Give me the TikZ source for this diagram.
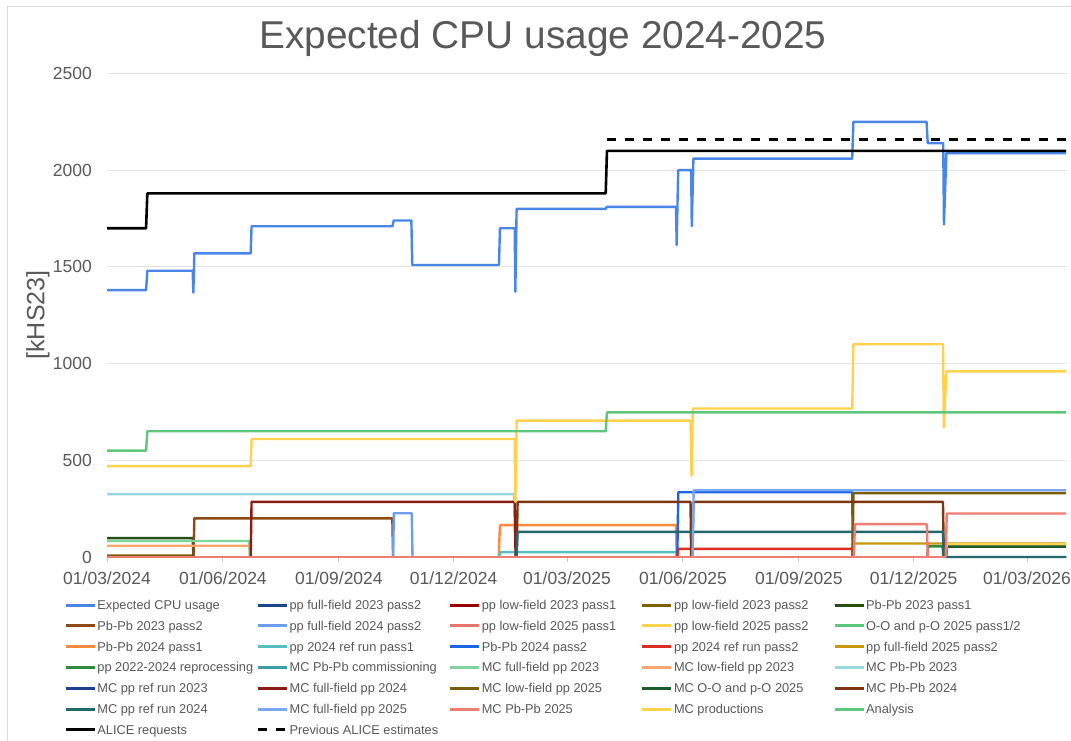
\documentclass[tikz,border=0pt]{standalone}
\usepackage{fontspec}
\setmainfont{Liberation Sans}
\definecolor{txt}{HTML}{595959}
\definecolor{gridc}{HTML}{E3E3E3}
\definecolor{framec}{HTML}{D9D9D9}
\definecolor{axisc}{HTML}{C6C6C6}
\definecolor{cExp}{HTML}{4A86E8}
\definecolor{cPPffA}{HTML}{1C4587}
\definecolor{cPPlfA}{HTML}{990000}
\definecolor{cPPlfB}{HTML}{7F6000}
\definecolor{cPbA}{HTML}{274E13}
\definecolor{cPbB}{HTML}{8F4A14}
\definecolor{cPPffB}{HTML}{6D9EEB}
\definecolor{cPPlfC}{HTML}{E8756B}
\definecolor{cPPlfD}{HTML}{FFD24D}
\definecolor{cOO}{HTML}{5CC67A}
\definecolor{cPbC}{HTML}{FF8A3D}
\definecolor{cRefA}{HTML}{55BFC4}
\definecolor{cPbD}{HTML}{1A66E6}
\definecolor{cRefB}{HTML}{DC2D20}
\definecolor{cPPffC}{HTML}{C9970A}
\definecolor{cRepro}{HTML}{2E8B3E}
\definecolor{cMCcomm}{HTML}{3A9EA6}
\definecolor{cMCffA}{HTML}{7ED49A}
\definecolor{cMClfA}{HTML}{F9A56E}
\definecolor{cMCPbA}{HTML}{98D8E0}
\definecolor{cMCrefA}{HTML}{1F3F8F}
\definecolor{cMCffB}{HTML}{8C1C13}
\definecolor{cMClfB}{HTML}{7A5C0C}
\definecolor{cMCOO}{HTML}{1D5A2E}
\definecolor{cMCPbB}{HTML}{7D3512}
\definecolor{cMCrefB}{HTML}{24686C}
\definecolor{cMCffC}{HTML}{79A7F2}
\definecolor{cMCPbC}{HTML}{EE7D74}
\definecolor{cMCprod}{HTML}{FFD24D}
\definecolor{cAna}{HTML}{5EC77B}
\begin{document}
\begin{tikzpicture}[x=1pt,y=-1pt,
  ser/.style={line width=2.4pt, line join=round},
  gridl/.style={draw=gridc, line width=1.2pt},
  ticklab/.style={text=txt, font=\fontsize{17.5}{20}\selectfont, inner sep=0pt},
  legtext/.style={text=txt, font=\fontsize{12.8}{15}\selectfont, anchor=base west, inner sep=0pt},
  legline/.style={line width=3pt},
  prevdash/.style={dash pattern=on 9.4pt off 8.6pt}]
\useasboundingbox (0,0) rectangle (1071,741);
\fill[white] (0,0) rectangle (1071,741);
\draw[framec, line width=1pt] (7,741) -- (7,7) -- (1071,7);
% title and axis title
\node[text=txt, font=\fontsize{38.8}{44}\selectfont, anchor=base, inner sep=0pt] (title) at (543,49) {Expected CPU usage 2024-2025};
\node[rotate=90, text=txt, font=\fontsize{25}{28}\selectfont, inner sep=0pt] (ytitle) at (38,315) {[kHS23]};
% y tick labels
\foreach \v in {0,500,1000,1500,2000,2500}
  \node[ticklab, anchor=east] (yl\v) at (92,557-0.1934*\v) {\v};
\begin{scope}[shift={(107pt,-557pt)}, x=1.2603pt, y=0.1934pt]
  \foreach \v in {500,1000,1500,2000,2500}
    \draw[gridl] (0,\v) -- (762,\v);
  \draw[axisc, line width=1.2pt] (0,0) -- (762,0);
  \foreach \d/\lab [count=\k] in {0/01\slash 03\slash 2024,92/01\slash 06\slash 2024,184/01\slash 09\slash 2024,275/01\slash 12\slash 2024,365/01\slash 03\slash 2025,457/01\slash 06\slash 2025,549/01\slash 09\slash 2025,640/01\slash 12\slash 2025,730/01\slash 03\slash 2026}{
    \draw[axisc, line width=1pt] (\d,0) -- ++(0pt,-5pt);
    \node[ticklab] (xl\k) at (\d,0) [yshift=-21pt] {\lab};
  }
  % series, in legend order
  \draw[ser, cExp] (0,1380) -- (31,1380) -- (32,1480) -- (68,1480) -- (68.5,1367) -- (69.3,1570) -- (114,1570) -- (114.7,1710) -- (226.5,1710) -- (227.5,1740) -- (241.5,1740) -- (242.2,1510) -- (311,1510) -- (311.8,1700) -- (323.5,1700) -- (324,1372) -- (325,1800) -- (395.7,1800) -- (396.5,1810) -- (451.5,1810) -- (452,1613) -- (453.2,2000) -- (463.5,2000) -- (464,1711) -- (465.3,2060) -- (591.3,2060) -- (592.2,2250) -- (650.3,2250) -- (651.2,2140) -- (663.5,2140) -- (664.1,1720) -- (666,2088) -- (761,2088);
  \draw[ser, cPPlfB] (0,8) -- (68,8) -- (68.6,0);
  \draw[ser, cPbA] (0,98) -- (68,98) -- (68.6,0);
  \draw[ser, cPbB] (68.6,0) -- (69.3,200) -- (226.4,200) -- (227,0);
  \draw[ser, cPPffB] (227,0) -- (227.6,226) -- (241.8,226) -- (242.4,0);
  \draw[ser, cPbC] (310.8,0) -- (311.8,165) -- (451.5,165) -- (452,0);
  \draw[ser, cRefA] (311,0) -- (312,25) -- (451.7,25) -- (452.2,0);
  \draw[ser, cPbD] (452.5,0) -- (453.3,335) -- (591.3,335) -- (591.8,0);
  \draw[ser, cRefB] (452.5,0) -- (453.3,42) -- (591.3,42) -- (591.8,0);
  \draw[ser, cPPffC] (592,0) -- (592.8,70) -- (761,70);
  \draw[ser, cRepro] (650.8,0) -- (651.5,55) -- (663,55) -- (663.6,0);
  \draw[ser, cMCffA] (0,83) -- (112.7,83) -- (113.3,0);
  \draw[ser, cMClfA] (0,58) -- (113.3,58) -- (114,0);
  \draw[ser, cMCPbA] (0,325) -- (323.2,325) -- (324,0);
  \draw[ser, cMCffB] (114,0) -- (114.7,285) -- (323.5,285) -- (324.2,0);
  \draw[ser, cMClfB] (591.5,0) -- (592.3,330) -- (761,330);
  \draw[ser, cMCOO, line width=3.2pt] (665.5,0) -- (666.3,55) -- (761,55);
  \draw[ser, cPPlfD] (665.5,0) -- (666.3,66) -- (761,66);
  \draw[ser, cMCPbB] (325,0) -- (325.8,285) -- (463,285) -- (463.5,0) -- (464.5,0) -- (465.3,285) -- (663.3,285) -- (664,0);
  \draw[ser, cMCrefB] (325,0) -- (325.8,130) -- (663.3,130) -- (664,0) -- (761,0);
  \draw[ser, cMCffC] (464.6,0) -- (465.5,345) -- (761,345);
  \draw[ser, cMCPbC] (0,0) -- (665.5,0);
  \draw[ser, cMCPbC] (592.5,0) -- (593.5,170) -- (650.5,170) -- (651.2,0);
  \draw[ser, cMCPbC] (665.5,0) -- (666.3,225) -- (761,225);
  \draw[ser, cMCprod] (0,470) -- (114,470) -- (114.7,610) -- (323.5,610) -- (324,285) -- (325,705) -- (463,705) -- (463.8,420) -- (464.8,768) -- (591.3,768) -- (592.2,1100) -- (663.3,1100) -- (664,670) -- (666,960) -- (761,960);
  \draw[ser, cAna] (0,550) -- (31,550) -- (32,650) -- (395.7,650) -- (396.7,748) -- (761,748);
  \draw[ser, black, line width=2.6pt] (0,1700) -- (31,1700) -- (32,1880) -- (395.7,1880) -- (396.7,2100) -- (761,2100);
  \draw[black, line width=2.6pt, prevdash] (396.7,2160) -- (761,2160);
\end{scope}
% legend
\foreach \c/\r/\col/\lab [count=\i] in {
  0/0/cExp/Expected CPU usage, 1/0/cPPffA/pp full-field 2023 pass2, 2/0/cPPlfA/pp low-field 2023 pass1, 3/0/cPPlfB/pp low-field 2023 pass2, 4/0/cPbA/Pb-Pb 2023 pass1,
  0/1/cPbB/Pb-Pb 2023 pass2, 1/1/cPPffB/pp full-field 2024 pass2, 2/1/cPPlfC/pp low-field 2025 pass1, 3/1/cPPlfD/pp low-field 2025 pass2, 4/1/cOO/{O-O and p-O 2025 pass1\slash 2},
  0/2/cPbC/Pb-Pb 2024 pass1, 1/2/cRefA/pp 2024 ref run pass1, 2/2/cPbD/Pb-Pb 2024 pass2, 3/2/cRefB/pp 2024 ref run pass2, 4/2/cPPffC/pp full-field 2025 pass2,
  0/3/cRepro/pp 2022-2024 reprocessing, 1/3/cMCcomm/MC Pb-Pb commissioning, 2/3/cMCffA/MC full-field pp 2023, 3/3/cMClfA/MC low-field pp 2023, 4/3/cMCPbA/MC Pb-Pb 2023,
  0/4/cMCrefA/MC pp ref run 2023, 1/4/cMCffB/MC full-field pp 2024, 2/4/cMClfB/MC low-field pp 2025, 3/4/cMCOO/MC O-O and p-O 2025, 4/4/cMCPbB/MC Pb-Pb 2024,
  0/5/cMCrefB/MC pp ref run 2024, 1/5/cMCffC/MC full-field pp 2025, 2/5/cMCPbC/MC Pb-Pb 2025, 3/5/cMCprod/MC productions, 4/5/cAna/Analysis,
  0/6/black/ALICE requests}{
  \draw[legline, draw=\col] (65.7+192.2*\c, 605+20.8*\r) -- ++(29,0);
  \node[legtext] (leg\i) at (97.2+192.2*\c, 609.5+20.8*\r) {\lab};
}
\draw[legline, draw=black, prevdash] (257.9,729.8) -- ++(29,0);
\node[legtext] (legprev) at (289.4,734.3) {Previous ALICE estimates};
\end{tikzpicture}
\end{document}
